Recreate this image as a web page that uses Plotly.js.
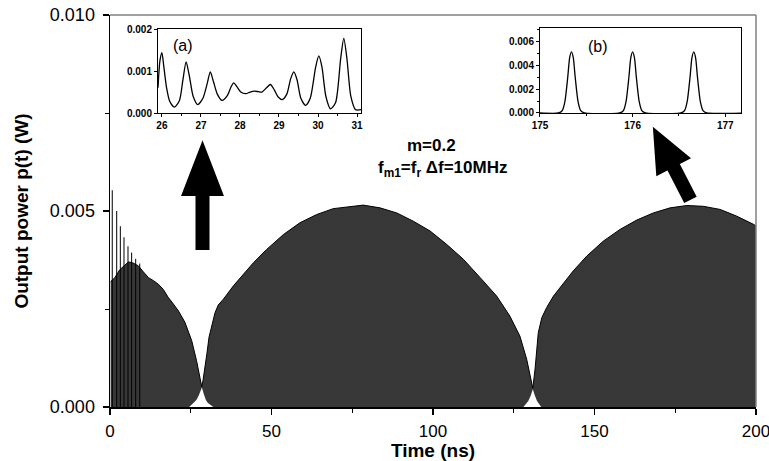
<!DOCTYPE html>
<html>
<head>
<meta charset="utf-8">
<script src="https://cdn.plot.ly/plotly-3.0.1.min.js"></script>
<style>html,body{margin:0;padding:0;background:#fff;}#chart{width:769px;height:461px;}</style>
</head>
<body>
<div id="chart"></div>
<script>
// ---- Main trace: upper envelope of the pulse train ----
const envT = [0.2, 1.5, 3.0, 4.5, 5.7, 7.0, 8.8, 10.3, 11.9, 13.5, 15.0, 16.5, 18.0, 19.6, 21.2, 23.2, 25.3, 26.8, 27.8, 28.4,
  28.8, 29.4, 30.0, 30.65, 31.5, 32.5, 33.5, 35.1, 38.2, 41.3, 44.4, 48.5, 53.7, 58.8, 64.0, 69.1, 74.3, 78.4, 83.6, 88.8,
  93.9, 99.1, 104.2, 109.4, 114.6, 119.7, 123.8, 126.9, 129.0, 130.2, 130.9, 131.6, 132.6, 133.7, 135.2, 137.3, 140.3,
  143.4, 147.6, 152.7, 157.9, 163.1, 168.2, 173.4, 178.6, 183.7, 188.9, 194.0, 199.2, 200];
const envP = [0.0032, 0.0033, 0.0035, 0.0036, 0.0037, 0.00368, 0.0036, 0.00345, 0.0033, 0.00322, 0.00313, 0.0030, 0.0028, 0.00263, 0.00245, 0.00216, 0.00169, 0.00118, 0.0008, 0.00052,
  0.00068, 0.00098, 0.00136, 0.00178, 0.0021, 0.0024, 0.0026, 0.00275, 0.00309, 0.00338, 0.00368, 0.00402, 0.0044, 0.0047, 0.00491, 0.00506, 0.00512, 0.00515, 0.00508, 0.00495,
  0.00474, 0.00449, 0.00415, 0.00377, 0.0033, 0.00283, 0.00232, 0.00181, 0.00122, 0.0007, 0.00048, 0.00097, 0.0019, 0.00228, 0.00254, 0.00283, 0.00313,
  0.00347, 0.00385, 0.00423, 0.00453, 0.00477, 0.00495, 0.00508, 0.00514, 0.00512, 0.00504, 0.00487, 0.00466, 0.00462];
// lower envelope (minimum between pulses)
const lowT = [0.2, 24.5, 26.3, 26.9, 27.5, 28.15, 28.45, 29.08, 29.68, 30.32, 31.0, 32.0, 128.0, 129.5, 130.3, 130.9, 131.5, 132.2, 133.5, 200];
const lowP = [0, 0, 0.00014, 0.0002, 0.0003, 0.00046, 0.0005, 0.00032, 0.00018, 0.0001, 0.00006, 0, 0, 0.00015, 0.0003, 0.00045, 0.0003, 0.00015, 0, 0];
// initial relaxation spikes
const spikeT = [0.7, 2.07, 3.2, 4.33, 5.57, 6.7, 7.95, 9.2];
const spikeP = [0.00553, 0.0050, 0.00461, 0.00433, 0.0041, 0.00394, 0.00378, 0.00366];

// ---- Inset (a) ----
const insetAT = [25.9, 25.95, 26.0, 26.05, 26.12, 26.2, 26.32, 26.45, 26.54, 26.62, 26.70, 26.8, 26.92, 27.05, 27.16, 27.24, 27.32, 27.42, 27.54, 27.68,
  27.77, 27.84, 27.92, 28.02, 28.15, 28.26, 28.37, 28.47, 28.56, 28.68, 28.78, 28.88, 28.98, 29.08, 29.2, 29.3, 29.38, 29.46, 29.56, 29.68,
  29.8, 29.94, 30.02, 30.1, 30.2, 30.32, 30.45, 30.58, 30.66, 30.74, 30.84, 30.96, 31.1];
const insetAP = [0.0006, 0.00125, 0.00144, 0.0011, 0.0006, 0.00028, 0.00014, 0.0003, 0.0008, 0.00122, 0.0009, 0.0004, 0.0002, 0.00035, 0.0007, 0.00098, 0.00075, 0.00045, 0.0003, 0.00042,
  0.00062, 0.00072, 0.00063, 0.0005, 0.00046, 0.0005, 0.00052, 0.00051, 0.0005, 0.0006, 0.00068, 0.00055, 0.00038, 0.00032, 0.00045, 0.00082, 0.00098, 0.0008, 0.00035, 0.00018,
  0.00035, 0.0011, 0.00136, 0.0011, 0.0004, 0.0001, 0.00025, 0.0013, 0.00178, 0.0013, 0.0004, 0.00008, 0.00008];

// ---- Inset (b) ----
const insetBT = [175.0, 175.20, 175.24, 175.27, 175.30, 175.32, 175.34, 175.36, 175.38, 175.41, 175.44, 175.48,
  175.86, 175.90, 175.93, 175.96, 175.98, 176.00, 176.02, 176.04, 176.07, 176.10, 176.14,
  176.52, 176.56, 176.59, 176.62, 176.64, 176.66, 176.68, 176.70, 176.73, 176.76, 176.80, 177.2];
const insetBP = [0, 0, 0.0002, 0.001, 0.003, 0.0046, 0.0051, 0.0046, 0.003, 0.001, 0.0002, 0,
  0, 0.0002, 0.001, 0.003, 0.0046, 0.0051, 0.0046, 0.003, 0.001, 0.0002, 0,
  0, 0.0002, 0.001, 0.003, 0.0046, 0.0051, 0.0046, 0.003, 0.001, 0.0002, 0, 0];

const mainXTicks = [0, 50, 100, 150, 200];
const mainYTicks = [0, 0.005, 0.010];
const mainYLabels = ['0.000', '0.005', '0.010'];

// spike segments
const sx = [], sy = [];
spikeT.forEach((t, i) => { sx.push(t, t, null); sy.push(0, spikeP[i], null); });

const FONT = 'Arial, "Liberation Sans", sans-serif';

const traces = [
  {x: lowT, y: lowP, mode: 'lines', line: {width: 0, color: 'rgba(0,0,0,0)'}, hoverinfo: 'skip', showlegend: false},
  {x: envT, y: envP, mode: 'lines', fill: 'tonexty', fillcolor: '#000',
   fillpattern: {shape: '|', size: 2, solidity: 0.6, fgcolor: '#000', bgcolor: '#8a8a8a'},
   line: {color: '#000', width: 1}, hoverinfo: 'skip', showlegend: false},
  {x: sx, y: sy, mode: 'lines', line: {color: '#000', width: 1}, hoverinfo: 'skip', showlegend: false},
  {x: insetAT, y: insetAP, xaxis: 'x2', yaxis: 'y2', mode: 'lines', line: {color: '#000', width: 1.3, shape: 'spline', smoothing: 0.7}, showlegend: false},
  {x: insetBT, y: insetBP, xaxis: 'x3', yaxis: 'y3', mode: 'lines', line: {color: '#000', width: 1.3, shape: 'spline', smoothing: 0.6}, showlegend: false}
];

// pixel -> data helpers for decorative arrows
const ML = 110, MW = 646, MB = 407, MH = 392;
function px2x(px) { return (px - ML) / MW * 200; }
function py2y(py) { return (MB - py) / MH * 0.01; }
function arrowPath(tip, tail, hl, hw, sw) {
  const dx = tail[0] - tip[0], dy = tail[1] - tip[1];
  const L = Math.hypot(dx, dy), ux = dx / L, uy = dy / L, nx = -uy, ny = ux;
  const b = [tip[0] + ux * hl, tip[1] + uy * hl];
  const pts = [
    tip,
    [b[0] + nx * hw / 2, b[1] + ny * hw / 2],
    [b[0] + nx * sw / 2, b[1] + ny * sw / 2],
    [tail[0] + nx * sw / 2, tail[1] + ny * sw / 2],
    [tail[0] - nx * sw / 2, tail[1] - ny * sw / 2],
    [b[0] - nx * sw / 2, b[1] - ny * sw / 2],
    [b[0] - nx * hw / 2, b[1] - ny * hw / 2]
  ];
  return 'M' + pts.map(p => px2x(p[0]).toFixed(4) + ',' + py2y(p[1]).toFixed(7)).join('L') + 'Z';
}

const insetTickFont = {family: FONT, size: 10, color: '#000', weight: 'bold'};

const layout = {
  width: 769, height: 461,
  margin: {l: 110, r: 13, t: 15, b: 54},
  paper_bgcolor: '#fff', plot_bgcolor: '#fff',
  showlegend: false,
  font: {family: FONT, color: '#000'},
  xaxis: {
    domain: [0, 1], range: [0, 200], tickvals: mainXTicks, ticktext: mainXTicks.map(String),
    showline: true, linecolor: '#000', linewidth: 1.5, ticks: 'outside', ticklen: 6, tickwidth: 1.2, tickcolor: '#000',
    minor: {dtick: 25, tick0: 0, ticks: 'outside', ticklen: 4, tickcolor: '#000', tickwidth: 1},
    showgrid: false, zeroline: false, tickfont: {family: FONT, size: 17}, ticklabeloverflow: 'allow',
    ticklabelstandoff: 2,
    title: {text: 'Time (ns)', font: {family: FONT, size: 19, weight: 'bold'}, standoff: 5}
  },
  yaxis: {
    domain: [0, 1], range: [0, 0.010], tickvals: mainYTicks, ticktext: mainYLabels,
    showline: true, linecolor: '#000', linewidth: 1.5, ticks: 'outside', ticklen: 6, tickwidth: 1.2, tickcolor: '#000',
    minor: {dtick: 0.0025, tick0: 0, ticks: 'outside', ticklen: 4, tickcolor: '#000', tickwidth: 1},
    showgrid: false, zeroline: false, tickfont: {family: FONT, size: 18}, ticklabelstandoff: 4,
    title: {text: 'Output power p(t) (W)', font: {family: FONT, size: 19, weight: 'bold'}, standoff: 16}
  },
  xaxis2: {
    domain: [0.0743, 0.3885], anchor: 'y2', range: [25.9, 31.1], dtick: 1, tick0: 26,
    showline: true, mirror: true, linecolor: '#000', linewidth: 1, ticks: 'outside', ticklen: 3, tickcolor: '#000',
    minor: {dtick: 0.5, ticks: 'outside', ticklen: 2, tickcolor: '#000'},
    showgrid: false, zeroline: false, tickfont: insetTickFont
  },
  yaxis2: {
    domain: [0.75, 0.964], anchor: 'x2', range: [0, 0.002], tickvals: [0, 0.001, 0.002], ticktext: ['0.000', '0.001', '0.002'],
    showline: true, mirror: true, linecolor: '#000', linewidth: 1, ticks: 'outside', ticklen: 3, tickcolor: '#000',
    showgrid: false, zeroline: false, tickfont: insetTickFont
  },
  xaxis3: {
    domain: [0.6656, 0.9768], anchor: 'y3', range: [175, 177.17], dtick: 1, tick0: 175,
    showline: true, mirror: true, linecolor: '#000', linewidth: 1, ticks: 'outside', ticklen: 3, tickcolor: '#000',
    minor: {dtick: 0.5, ticks: 'outside', ticklen: 2, tickcolor: '#000'},
    showgrid: false, zeroline: false, tickfont: insetTickFont
  },
  yaxis3: {
    domain: [0.75, 0.967], anchor: 'x3', range: [0, 0.0071], tickvals: [0, 0.002, 0.004, 0.006], ticktext: ['0.000', '0.002', '0.004', '0.006'],
    showline: true, mirror: true, linecolor: '#000', linewidth: 1, ticks: 'outside', ticklen: 3, tickcolor: '#000',
    minor: {dtick: 0.001, ticks: 'outside', ticklen: 2, tickcolor: '#000'},
    showgrid: false, zeroline: false, tickfont: insetTickFont
  },
  shapes: [
    {type: 'line', xref: 'paper', yref: 'paper', x0: 0, x1: 1, y0: 1, y1: 1, line: {color: '#808080', width: 1.5}},
    {type: 'line', xref: 'paper', yref: 'paper', x0: 1, x1: 1, y0: 0, y1: 1, line: {color: '#808080', width: 1.5}},
    {type: 'path', xref: 'x', yref: 'y', path: arrowPath([202.5, 143], [202.5, 249], 52, 40, 12),
     fillcolor: '#000', line: {color: '#000', width: 2}},
    {type: 'path', xref: 'x', yref: 'y', path: arrowPath([654, 129], [690, 199], 42, 36, 12),
     fillcolor: '#000', line: {color: '#000', width: 2}}
  ],
  annotations: [
    {text: 'm=0.2', xref: 'paper', yref: 'paper', x: 0.498, y: 0.666, showarrow: false,
     font: {family: FONT, size: 17, weight: 'bold'}, xanchor: 'center', yanchor: 'middle'},
    {text: 'f<sub>m1</sub>=f<sub>r</sub> Δf=10MHz', xref: 'paper', yref: 'paper', x: 0.514, y: 0.607, showarrow: false,
     font: {family: FONT, size: 17, weight: 'bold'}, xanchor: 'center', yanchor: 'middle'},
    {text: '(a)', xref: 'paper', yref: 'paper', x: (183 - 110) / 646, y: (407 - 45) / 392, showarrow: false,
     font: {family: FONT, size: 16}, xanchor: 'center', yanchor: 'middle'},
    {text: '(b)', xref: 'paper', yref: 'paper', x: (598 - 110) / 646, y: (407 - 46) / 392, showarrow: false,
     font: {family: FONT, size: 16}, xanchor: 'center', yanchor: 'middle'}
  ]
};

Plotly.newPlot('chart', traces, layout, {staticPlot: true, displayModeBar: false});
</script>
</body>
</html>
